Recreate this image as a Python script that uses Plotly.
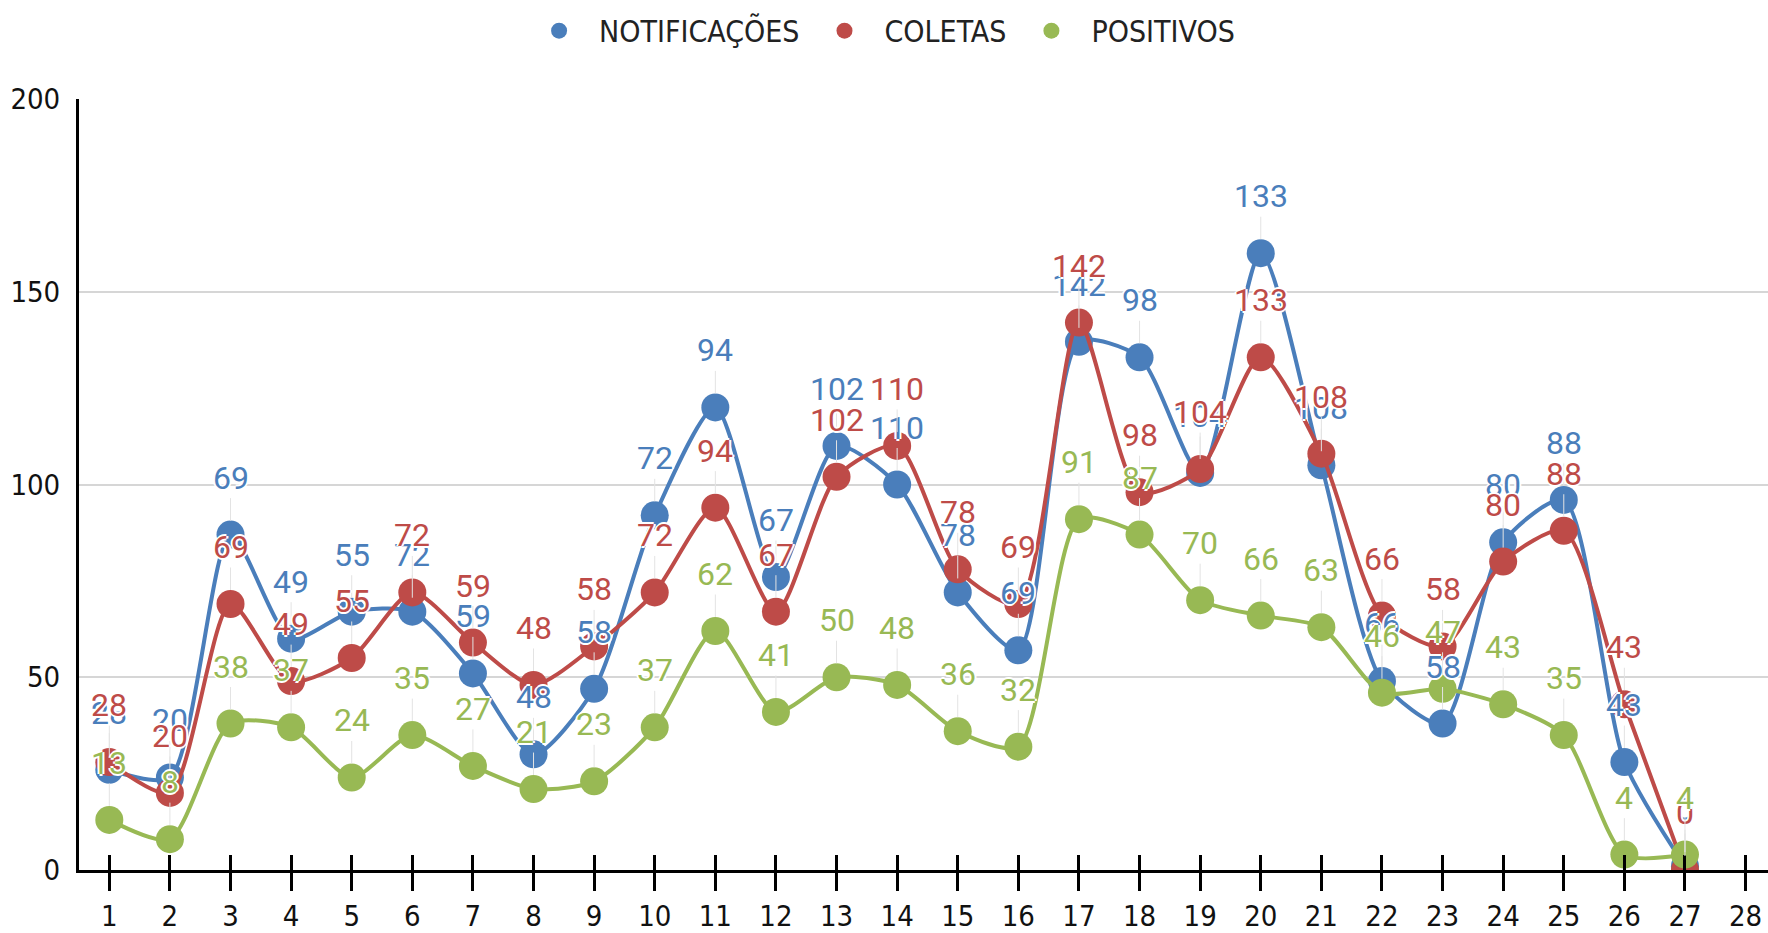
import plotly.graph_objects as go

# ===== Data =====
dias = list(range(1, 28))
x_ticks = list(range(1, 29))

notificacoes = [26, 24, 87, 60, 67, 67, 51, 30, 47, 92, 120, 76, 110, 100, 72,
                57, 137, 133, 103, 160, 105, 49, 38, 85, 96, 28, 1]
coletas = [28, 20, 69, 49, 55, 72, 59, 48, 58, 72, 94, 67, 102, 110, 78,
           69, 142, 98, 104, 133, 108, 66, 58, 80, 88, 43, 0]
positivos = [13, 8, 38, 37, 24, 35, 27, 21, 23, 37, 62, 41, 50, 48, 36,
             32, 91, 87, 70, 66, 63, 46, 47, 43, 35, 4, 4]

# the labels on the blue series show the coletas numbers (as in the source)
series = [
    ("NOTIFICAÇÕES", notificacoes, coletas, "#4A7EBB"),
    ("COLETAS", coletas, coletas, "#BE4B48"),
    ("POSITIVOS", positivos, positivos, "#98B954"),
]

label_font = "Roboto, sans-serif"
axis_font = "DejaVu Sans Condensed, DejaVu Sans, sans-serif"
halo = "2px 0 0 white, -2px 0 0 white, 0 2px 0 white, 0 -2px 0 white"

fig = go.Figure()
annotations = []

for name, values, labels, color in series:
    fig.add_trace(go.Scatter(
        x=dias, y=values, mode="lines+markers", name=name,
        line=dict(color=color, width=4, shape="spline", smoothing=0.7),
        marker=dict(color=color, size=28),
        showlegend=False, hoverinfo="x+y",
    ))
    # legend entry with a bare circle
    fig.add_trace(go.Scatter(
        x=[None], y=[None], mode="markers", name=name,
        marker=dict(color=color, size=30),
    ))
    for d, v, lab in zip(dias, values, labels):
        annotations.append(dict(
            x=d, y=v, xref="x", yref="y", text=str(lab),
            showarrow=True, arrowhead=0, arrowwidth=1, arrowcolor="#e3e3e3",
            ax=0, ay=-57, standoff=14,
            font=dict(family=label_font, size=32, color=color, shadow=halo),
        ))

fig.update_layout(
    width=1768, height=933,
    paper_bgcolor="white", plot_bgcolor="white",
    margin=dict(l=79, r=0, t=99, b=60),
    annotations=annotations,
    legend=dict(
        orientation="h", x=0.474, xanchor="center", y=0.995, yanchor="top",
        yref="container", font=dict(family=axis_font, size=30, color="#222"),
        itemsizing="trace", itemwidth=70, itemclick=False,
    ),
    xaxis=dict(
        range=[0.5, 28.37], tickvals=x_ticks, ticktext=[str(t) for t in x_ticks],
        showgrid=False, zeroline=False,
        showline=True, linecolor="black", linewidth=3,
        ticks="outside", ticklen=18, tickwidth=2.5, tickcolor="black",
        tickfont=dict(family=axis_font, size=29, color="#111"),
    ),
    xaxis2=dict(
        range=[0.5, 28.37], tickvals=x_ticks, overlaying="x", side="bottom",
        showgrid=False, zeroline=False, showticklabels=False,
        ticks="inside", ticklen=15, tickwidth=2.5, tickcolor="black",
    ),
    yaxis=dict(
        range=[0, 200], dtick=50, showgrid=True, gridcolor="#d6d6d6", gridwidth=1.5,
        zeroline=False, showline=True, linecolor="black", linewidth=3,
        ticks="", ticklabelstandoff=10,
        tickfont=dict(family=axis_font, size=29, color="#111"),
    ),
)

# empty trace so the inside ticks axis is drawn
fig.add_trace(go.Scatter(x=[None], y=[None], xaxis="x2", showlegend=False, hoverinfo="skip"))

fig.write_html(
    "out.html",
    config={"displayModeBar": False},
    post_script="document.body.style.margin='0px'; document.body.style.overflow='hidden';",
)
